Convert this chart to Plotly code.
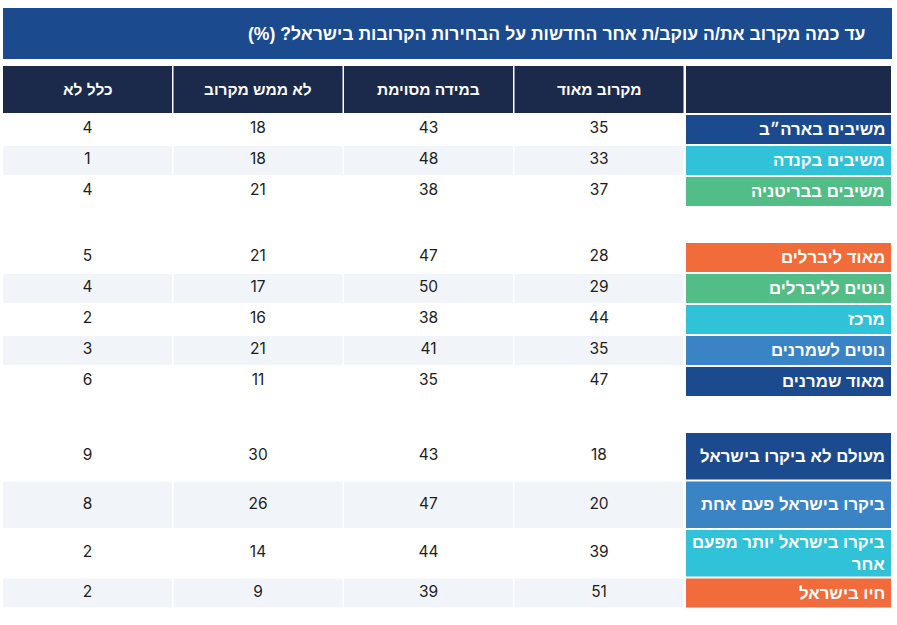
import plotly.graph_objects as go

# ---------------- data ----------------
title = "עד כמה מקרוב את/ה עוקב/ת אחר החדשות על הבחירות הקרובות בישראל? (%)"
columns = ["מקרוב מאוד", "במידה מסוימת", "לא ממש מקרוב", "כלל לא"]

group1_labels = ["משיבים בארה״ב", "משיבים בקנדה", "משיבים בבריטניה"]
group1_very = [35, 33, 37]
group1_some = [43, 48, 38]
group1_notreally = [18, 18, 21]
group1_notatall = [4, 1, 4]

group2_labels = ["מאוד ליברלים", "נוטים לליברלים", "מרכז", "נוטים לשמרנים", "מאוד שמרנים"]
group2_very = [28, 29, 44, 35, 47]
group2_some = [47, 50, 38, 41, 35]
group2_notreally = [21, 17, 16, 21, 11]
group2_notatall = [5, 4, 2, 3, 6]

group3_labels = ["מעולם לא ביקרו בישראל", "ביקרו בישראל פעם אחת",
                 "ביקרו בישראל יותר מפעם<br>אחר", "חיו בישראל"]
group3_very = [18, 20, 39, 51]
group3_some = [43, 47, 44, 39]
group3_notreally = [30, 26, 14, 9]
group3_notatall = [9, 8, 2, 2]

# ---------------- styles ----------------
DARK_BLUE = "#1b4a8f"
CYAN = "#2fc2d8"
GREEN = "#52bd86"
ORANGE = "#f26b3a"
MID_BLUE = "#3a84c6"
HEADER = "#1b2a4a"
STRIPE = "#f1f5fa"

group1_colors = [DARK_BLUE, CYAN, GREEN]
group2_colors = [ORANGE, GREEN, CYAN, MID_BLUE, DARK_BLUE]
group3_colors = [DARK_BLUE, MID_BLUE, CYAN, ORANGE]
group1_heights = [29, 29, 29]
group2_heights = [29, 29, 29, 29, 29]
group3_heights = [46.5, 46.5, 46.5, 29]

groups = [
    (group1_labels, [group1_very, group1_some, group1_notreally, group1_notatall], group1_colors, group1_heights),
    (group2_labels, [group2_very, group2_some, group2_notreally, group2_notatall], group2_colors, group2_heights),
    (group3_labels, [group3_very, group3_some, group3_notreally, group3_notatall], group3_colors, group3_heights),
]

W, H = 897, 625
NUM_FONT = "Inter, Roboto, 'Liberation Sans', sans-serif"
HEB_FONT = "'Liberation Sans', Arial, sans-serif"

# column geometry (value columns right-to-left: index 0 is rightmost)
LEFT = 3
COL_W = 169
COL_GAP = 1.5
LABEL_X0, LABEL_X1 = 686, 891


def col_bounds(k):
    # k = 0 -> "מקרוב מאוד" (rightmost value column)
    i = 3 - k
    x0 = LEFT + i * (COL_W + COL_GAP)
    return x0, x0 + COL_W


shapes = []
annotations = []

# title banner
shapes.append(dict(type="rect", xref="x", yref="y", x0=3, x1=892, y0=8, y1=59,
                   fillcolor=DARK_BLUE, line_width=0, layer="below"))
annotations.append(dict(xref="x", yref="y", x=868, y=34, text="<b>" + title + "\u200f</b>",
                        showarrow=False, xanchor="right", yanchor="middle",
                        font=dict(family=HEB_FONT, size=17.6, color="white")))

# header row
HEAD_Y0, HEAD_Y1 = 66, 113
for k, name in enumerate(columns):
    x0, x1 = col_bounds(k)
    shapes.append(dict(type="rect", xref="x", yref="y", x0=x0, x1=x1, y0=HEAD_Y0, y1=HEAD_Y1,
                       fillcolor=HEADER, line_width=0, layer="below"))
    annotations.append(dict(xref="x", yref="y", x=(x0 + x1) / 2, y=(HEAD_Y0 + HEAD_Y1) / 2,
                            text="<b>" + name + "</b>", showarrow=False,
                            xanchor="center", yanchor="middle",
                            font=dict(family=HEB_FONT, size=15.5, color="white")))
shapes.append(dict(type="rect", xref="x", yref="y", x0=LABEL_X0, x1=LABEL_X1, y0=HEAD_Y0, y1=HEAD_Y1,
                   fillcolor=HEADER, line_width=0, layer="below"))

# body rows
ROW_GAP = 2
GROUP_GAP = 37
y = 115
num_x, num_y, num_text = [], [], []
for labels, cols, colors, heights in groups:
    for r, label in enumerate(labels):
        h = heights[r]
        y0, y1 = y, y + h
        yc = (y0 + y1) / 2
        # stripe
        if r % 2 == 1:
            for k in range(4):
                x0, x1 = col_bounds(k)
                shapes.append(dict(type="rect", xref="x", yref="y", x0=x0, x1=x1, y0=y0, y1=y1,
                                   fillcolor=STRIPE, line_width=0, layer="below"))
        # label cell
        shapes.append(dict(type="rect", xref="x", yref="y", x0=LABEL_X0, x1=LABEL_X1, y0=y0, y1=y1,
                           fillcolor=colors[r], line_width=0, layer="below"))
        annotations.append(dict(xref="x", yref="y", x=LABEL_X1 - 4, y=yc,
                                text="<b>" + label + "</b>", showarrow=False,
                                xanchor="right", yanchor="middle", align="right",
                                font=dict(family=HEB_FONT, size=16.8, color="white")))
        for k in range(4):
            x0, x1 = col_bounds(k)
            num_x.append((x0 + x1) / 2)
            num_y.append(yc)
            num_text.append(str(cols[k][r]))
        y = y1 + ROW_GAP
    y = y - ROW_GAP + GROUP_GAP

fig = go.Figure()
fig.add_trace(go.Scatter(x=num_x, y=num_y, text=num_text, mode="text",
                         textposition="middle center",
                         textfont=dict(family=NUM_FONT, size=15.5, color="#1e1e1e"),
                         hoverinfo="skip", showlegend=False))

fig.update_layout(
    width=W, height=H,
    margin=dict(l=0, r=0, t=0, b=0),
    paper_bgcolor="white", plot_bgcolor="white",
    xaxis=dict(range=[0, W], visible=False, fixedrange=True),
    yaxis=dict(range=[H, 0], visible=False, fixedrange=True),
    shapes=shapes, annotations=annotations,
    showlegend=False,
)

fig.write_html("out.html", config={"displayModeBar": False},
               post_script="document.body.style.margin='0';document.body.style.overflow='hidden';")
